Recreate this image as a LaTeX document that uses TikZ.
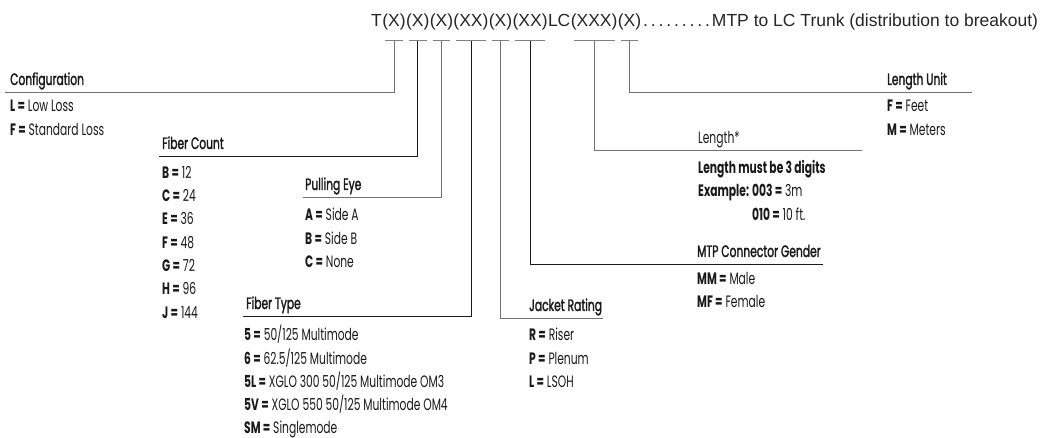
\documentclass[tikz,border=0pt]{standalone}
\usepackage{fontspec}
\usetikzlibrary{positioning}
\newfontfamily\codefont{Liberation Sans}
\newfontfamily\keyfont{Poppins}[FakeStretch=0.65]
\newfontfamily\headfont{Poppins}[FakeStretch=0.65, RawFeature={embolden=1.6}]

\begin{document}
\begin{tikzpicture}[
x=1pt,
y=-1pt,
code/.style={
inner sep=0pt,
text=black!85,
font=\codefont\fontsize{17.5}{20}\selectfont
},
heading/.style={
anchor=base west,
inner sep=0pt,
text=black!90,
font=\headfont\fontsize{16.5}{19}\selectfont
},
lightheading/.style={
heading,
font=\keyfont\fontsize{16.5}{19}\selectfont
},
choices/.style={
anchor=north west,
inner sep=0pt,
align=left,
text=black!90,
font=\keyfont\fontsize{16.5}{23.3}\selectfont
},
tick/.style={
draw=black!50,
line width=0.9pt
},
lead/.style={
draw=black!55,
line width=0.9pt
},
darklead/.style={
draw=black!90,
line width=0.9pt
}
]

\useasboundingbox (0,0) rectangle (1044,438);

\node[code, anchor=base west] (tcode) at (371,27) {T};
\node[code, base right=0pt of tcode] (gcfg) {(X)};
\node[code, base right=0pt of gcfg] (gcount) {(X)};
\node[code, base right=0pt of gcount] (geye) {(X)};
\node[code, base right=0pt of geye] (gtype) {(XX)};
\node[code, base right=0pt of gtype] (gjacket) {(X)};
\node[code, base right=0pt of gjacket] (ggender) {(XX)};
\node[code, base right=0pt of ggender] (lc) {LC};
\node[code, base right=0pt of lc] (glength) {(XXX)};
\node[code, base right=0pt of glength] (gunit) {(X)};
\node[code, base right=0pt of gunit] (dots)
{\hbox to 70pt{\xleaders\hbox to 7.4pt{\hss.\hss}\hfill}};
\node[code, base right=0pt of dots] (trunk)
{MTP to LC Trunk (distribution to breakout)};

\node[heading] (config) at (10,85) {Configuration};
\node[choices] (configitems) at (10,100)
{\textbf{L =} Low Loss\\
\textbf{F =} Standard Loss};

\node[heading] (count) at (162,149) {Fiber Count};
\node[choices] (countitems) at (162,166)
{\textbf{B =} 12\\
\textbf{C =} 24\\
\textbf{E =} 36\\
\textbf{F =} 48\\
\textbf{G =} 72\\
\textbf{H =} 96\\
\textbf{J =} 144};

\node[heading] (eye) at (305,190) {Pulling Eye};
\node[choices] (eyeitems) at (305,208)
{\textbf{A =} Side A\\
\textbf{B =} Side B\\
\textbf{C =} None};

\node[heading] (type) at (246,309) {Fiber Type};
\node[choices] (typeitems) at (244,325)
{\textbf{5 =} 50/125 Multimode\\
\textbf{6 =} 62.5/125 Multimode\\
\textbf{5L =} XGLO 300 50/125 Multimode OM3\\
\textbf{5V =} XGLO 550 50/125 Multimode OM4\\
\textbf{SM =} Singlemode};

\node[heading] (jacket) at (529,311) {Jacket Rating};
\node[choices] (jacketitems) at (529,328)
{\textbf{R =} Riser\\
\textbf{P =} Plenum\\
\textbf{L =} LSOH};

\node[heading] (gender) at (697,257) {MTP Connector Gender};
\node[choices] (genderitems) at (697,272)
{\textbf{MM =} Male\\
\textbf{MF =} Female};

\node[lightheading] (length) at (698,144) {Length*};
\node[choices] (lengthitems) at (698,160)
{\textbf{Length must be 3 digits}\\
\textbf{Example: 003 =} 3m\\
\phantom{\textbf{Example: }}\textbf{010 =} 10 ft.};

\node[heading] (unit) at (887,85) {Length Unit};
\node[choices] (unititems) at (887,100)
{\textbf{F =} Feet\\
\textbf{M =} Meters};

\coordinate (configend) at (5,92);
\coordinate (countend) at (159,156);
\coordinate (eyeend) at (303,197);
\coordinate (typeend) at (243,316);
\coordinate (jacketend) at (603,318);
\coordinate (genderend) at (823,264);
\coordinate (lengthend) at (862,150);
\coordinate (unitend) at (972,92);

\draw[tick] ([xshift=3pt,yshift=-10pt]gcfg.south west) -- ([xshift=-3pt,yshift=-10pt]gcfg.south east);
\draw[tick] ([xshift=3pt,yshift=-10pt]gcount.south west) -- ([xshift=-3pt,yshift=-10pt]gcount.south east);
\draw[tick] ([xshift=3pt,yshift=-10pt]geye.south west) -- ([xshift=-3pt,yshift=-10pt]geye.south east);
\draw[tick] ([xshift=3pt,yshift=-10pt]gtype.south west) -- ([xshift=-3pt,yshift=-10pt]gtype.south east);
\draw[tick] ([xshift=3pt,yshift=-10pt]gjacket.south west) -- ([xshift=-3pt,yshift=-10pt]gjacket.south east);
\draw[tick] ([xshift=3pt,yshift=-10pt]ggender.south west) -- ([xshift=-3pt,yshift=-10pt]ggender.south east);
\draw[tick] ([xshift=3pt,yshift=-10pt]glength.south west) -- ([xshift=-3pt,yshift=-10pt]glength.south east);
\draw[tick] ([xshift=3pt,yshift=-10pt]gunit.south west) -- ([xshift=-3pt,yshift=-10pt]gunit.south east);

\draw[lead] ([yshift=-10pt]gcfg.south) |- (configend);
\draw[darklead] ([yshift=-10pt]gcount.south) |- (countend);
\draw[lead] ([yshift=-10pt]geye.south) |- (eyeend);
\draw[darklead] ([yshift=-10pt]gtype.south) |- (typeend);
\draw[lead] ([yshift=-10pt]gjacket.south) |- (jacketend);
\draw[darklead] ([yshift=-10pt]ggender.south) |- (genderend);
\draw[lead] ([yshift=-10pt]glength.south) |- (lengthend);
\draw[lead] ([yshift=-10pt]gunit.south) |- (unitend);

\end{tikzpicture}
\end{document}
